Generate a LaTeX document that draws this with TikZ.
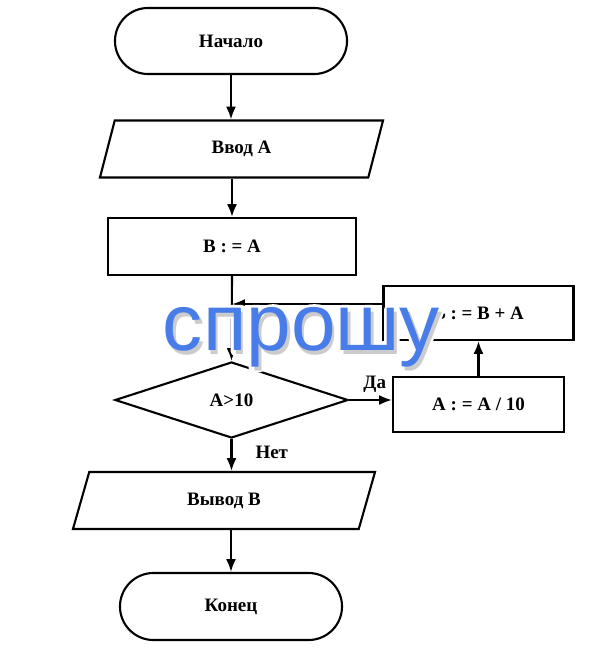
\documentclass[tikz,border=0pt]{standalone}
\usepackage{fontspec}
\setmainfont{Liberation Serif}
\newfontfamily\wmfont{Liberation Sans}
\usetikzlibrary{shapes.geometric,shapes.misc,arrows.meta}
\definecolor{wmblue}{RGB}{72,124,232}
\newcommand\halotext[1]{\special{pdf:literal direct 1 Tr 6 w 1 j 1 1 1 RG}#1\special{pdf:literal direct 0 Tr}}
\begin{document}
\begin{tikzpicture}[x=0.025cm,y=-0.025cm,>={Latex[length=3.2mm,width=2.5mm]},
	every path/.style={line width=1.5pt},
	every node/.style={font=\bfseries\fontsize{13.5}{15}\selectfont},
	term/.style={draw,rounded rectangle,inner sep=0},
	io/.style={draw,trapezium,trapezium left angle=47,trapezium right angle=133,trapezium stretches body,inner sep=0},
	proc/.style={draw,rectangle,inner sep=0},
	decide/.style={draw,diamond,inner sep=0},
	wm/.style={font=\wmfont\fontsize{57}{60}\selectfont,anchor=base}]
	\useasboundingbox (0,0) rectangle (600,658);
	% blocks
	\node[term,minimum width=5.8cm,minimum height=1.65cm] (start) at (231,41) {Начало};
	\node[io,minimum width=7.075cm,minimum height=1.425cm] (input) at (241.5,149) {Ввод А};
	\node[proc,minimum width=6.2cm,minimum height=1.425cm] (init) at (232,246.5) {В : = А};
	\node[decide,minimum width=5.825cm,minimum height=1.9cm] (test) at (231.5,400) {А>10};
	\node[proc,minimum width=4.275cm,minimum height=1.375cm] (div) at (478.5,404.5) {А : = А / 10};
	\node[proc,minimum width=4.75cm,minimum height=1.35cm] (sum) at (478.5,313) {В : = В + А};
	\node[io,trapezium left angle=44,trapezium right angle=136,minimum width=7.55cm,minimum height=1.425cm] (output) at (224,500.5) {Вывод В};
	\node[term,minimum width=5.55cm,minimum height=1.675cm] (end) at (231,606.5) {Конец};
	\coordinate (join) at (232,304);
	% connectors
	\draw[->] (start.south) -- (start.south |- input.north);
	\draw[->] (init.north |- input.south) -- (init.north);
	\draw[->] (init.south) -- (test.north);
	\draw[->] (test.east) -- (test.east -| div.west) node[midway,above=1pt,xshift=3pt]{Да};
	\draw[->] (div.north) -- (sum.south);
	\draw[->] (sum.west |- join) -- (join);
	\draw[->] (test.south) -- (test.south |- output.north) node[midway,right=13pt,yshift=2pt]{Нет};
	\draw[->] (end.north |- output.south) -- (end.north);
	% watermark
	\node[wm,text=white] at (302.5,351.5) {\halotext{спрошу}};
	\node[wm,text=black!20] at (304,354) {спрошу};
	\node[wm,text=wmblue] at (301.5,350) {спрошу};
\end{tikzpicture}
\end{document}
